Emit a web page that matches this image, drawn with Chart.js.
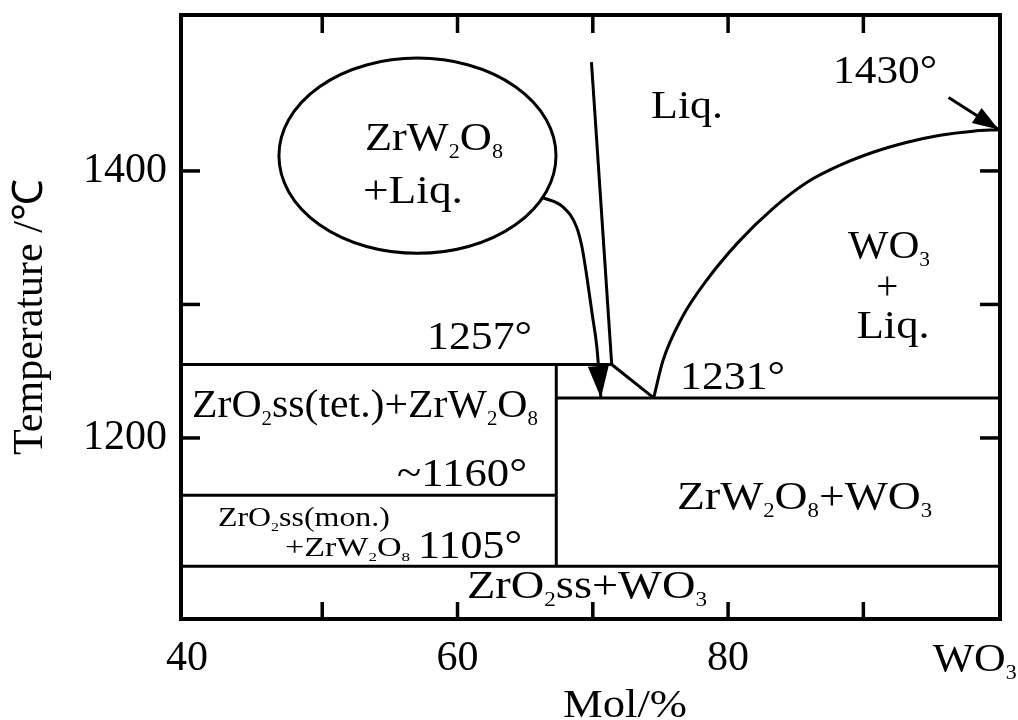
<!DOCTYPE html>
<html>
<head>
<meta charset="utf-8">
<script src="https://cdn.jsdelivr.net/npm/chart.js@4.4.1/dist/chart.umd.min.js"></script>
<style>
html,body{margin:0;padding:0;background:#fff;}
#wrap{width:1018px;height:720px;position:relative;}
</style>
</head>
<body>
<div id="wrap"><canvas id="c"></canvas></div>
<script>
// ---------- data ----------
const X_MIN = 39.56, X_MAX = 100.1;
const T_MIN = 1064.4, T_MAX = 1516.8;

const xTickValues = [40, 50, 60, 70, 80, 90, 100];
const xTickLabels = ['40', '', '60', '', '80', '', ''];
const yTickValues = [1200, 1300, 1400];
const yTickLabels = ['1200', '', '1400'];

const compoundX = 67.3;        // ZrW2O8 composition line
const peritecticT = 1255;      // "1257°"
const eutecticT = 1230;        // "1231°"
const tetMonT = 1157;          // "~1160°"
const lowT = 1104;             // "1105°"

const peritecticEndX = 71.4;
const eutecticX = 74.5;

// WO3-side liquidus
const liquidusX = [74.5, 75.19, 76.6, 78.3, 80.74, 83.33, 85.84, 88.28, 90.72, 93.24, 95.68, 98.12, 100];
const liquidusT = [1230, 1258, 1290.2, 1316.5, 1346.5, 1372, 1391.5, 1404.3, 1414, 1421.5, 1426.8, 1429.8, 1430.9];

// steep ZrO2 liquidus from top
const zrLiqX = [69.9, 71.4];
const zrLiqT = [1481.5, 1255];

// pointer from the ellipse to the 1231 line
const pointerX = [66.3, 67.8, 68.8, 69.2, 69.6, 69.95, 70.3, 70.6];
const pointerT = [1380, 1373, 1358, 1343, 1318, 1293, 1268, 1230];

// arrow to 1430°
const arrowX = [96.3, 100];
const arrowT = [1455, 1431];

// ---------- helpers ----------
const FONT = '"Liberation Serif", "Times New Roman", Times, serif';
const pts = (xs, ys) => xs.map((x, i) => ({x, y: ys[i]}));
const ds = (data, extra) => Object.assign({
  data, borderColor: '#000', borderWidth: 3, pointRadius: 0, fill: false,
  tension: 0, borderCapStyle: 'butt', borderJoinStyle: 'miter'
}, extra || {});

function drawRich(ctx, text, x, y, size, align, target) {
  const parts = [];
  text.split(/(_\d)/).forEach(s => {
    if (!s) return;
    if (/^_\d$/.test(s)) parts.push([s[1], true]); else parts.push([s, false]);
  });
  const f = s => `${s}px ${FONT}`;
  let total = 0;
  const w = parts.map(([t, sub]) => { ctx.font = f(sub ? size * 0.5 : size); const m = ctx.measureText(t).width; total += m; return m; });
  const sx = target ? target / total : 1;
  const full = total * sx;
  const start = align === 'center' ? x - full / 2 : align === 'right' ? x - full : x;
  ctx.save();
  ctx.translate(start, y);
  ctx.scale(sx, 1);
  ctx.textAlign = 'left';
  ctx.textBaseline = 'alphabetic';
  let cx = 0;
  parts.forEach(([t, sub], i) => {
    ctx.font = f(sub ? size * 0.5 : size);
    ctx.fillText(t, cx, sub ? size * 0.2 : 0);
    cx += w[i];
  });
  ctx.restore();
}

function arrowHead(ctx, fx, fy, tx, ty, len, wid) {
  const ang = Math.atan2(ty - fy, tx - fx);
  const bx = tx - len * Math.cos(ang), by = ty - len * Math.sin(ang);
  const nx = -Math.sin(ang) * wid / 2, ny = Math.cos(ang) * wid / 2;
  ctx.beginPath();
  ctx.moveTo(tx, ty);
  ctx.lineTo(bx + nx, by + ny);
  ctx.lineTo(bx - nx, by - ny);
  ctx.closePath();
  ctx.fill();
}

// text annotations: [text, x value, T value, size, align, width px]
const annotations = [
  ['1430°', 87.76, 1465.8, 40, 'left', 104],
  ['Liq.', 79.63, 1439.5, 40, 'right', 72],
  ['ZrW_2O_8', 53.16, 1415.5, 40, 'left', 138],
  ['+Liq.', 53.01, 1375.8, 40, 'left', 100],
  ['WO_3', 91.90, 1334.5, 40, 'center', 82],
  ['+', 91.76, 1304.4, 40, 'center', 22],
  ['Liq.', 92.2, 1275.2, 40, 'center', 73],
  ['1231°', 76.45, 1237.0, 40, 'left', 105],
  ['1257°', 65.51, 1267.0, 40, 'right', 105],
  ['ZrO_2ss(tet.)+ZrW_2O_8', 40.37, 1216.0, 40, 'left', 346],
  ['~1160°', 65.14, 1164.2, 40, 'right', 130],
  ['ZrO_2ss(mon.)', 42.29, 1134.2, 27, 'left', 172],
  ['+ZrW_2O_8', 47.25, 1111.7, 27, 'left', 125],
  ['1105°', 57.08, 1110.2, 40, 'left', 104],
  ['ZrW_2O_8+WO_3', 76.23, 1147.0, 40, 'left', 255],
  ['ZrO_2ss+WO_3', 60.70, 1080.2, 40, 'left', 240]
];

const overlay = {
  id: 'overlay',
  afterDraw(chart) {
    const {ctx, chartArea: a, scales: {x, y}} = chart;
    ctx.save();
    ctx.strokeStyle = '#000';
    ctx.fillStyle = '#000';
    const seg = (x1, y1, x2, y2) => { ctx.beginPath(); ctx.moveTo(x1, y1); ctx.lineTo(x2, y2); ctx.stroke(); };

    // inner tick marks
    ctx.lineWidth = 3.5;
    x.ticks.forEach(t => {
      if (t.value <= 40 || t.value >= 100) return;
      const px = x.getPixelForValue(t.value);
      seg(px, a.bottom, px, a.bottom - 17);
      seg(px, a.top, px, a.top + 18);
    });
    y.ticks.forEach(t => {
      const py = y.getPixelForValue(t.value);
      seg(a.left, py, a.left + 19, py);
      seg(a.right, py, a.right - 20, py);
    });

    // frame
    ctx.lineWidth = 4;
    ctx.strokeRect(a.left, a.top, a.right - a.left, a.bottom - a.top);

    // ellipse of ZrW2O8 + Liq.
    ctx.lineWidth = 3;
    const ecx = x.getPixelForValue(57.04), ecy = y.getPixelForValue(1411.4);
    const erx = x.getPixelForValue(57.04 + 10.24) - ecx;
    const ery = ecy - y.getPixelForValue(1411.4 + 73.1);
    ctx.beginPath();
    ctx.ellipse(ecx, ecy, erx, ery, 0, 0, Math.PI * 2);
    ctx.stroke();

    // arrow heads
    const n = pointerX.length;
    arrowHead(ctx, x.getPixelForValue(pointerX[n - 2]), y.getPixelForValue(pointerT[n - 2]),
      x.getPixelForValue(pointerX[n - 1]), y.getPixelForValue(pointerT[n - 1]), 32, 21);
    arrowHead(ctx, x.getPixelForValue(arrowX[0]), y.getPixelForValue(arrowT[0]),
      x.getPixelForValue(arrowX[1]), y.getPixelForValue(arrowT[1]), 26, 18);

    // texts
    annotations.forEach(([t, xv, yv, s, al, w]) => drawRich(ctx, t, x.getPixelForValue(xv), y.getPixelForValue(yv), s, al, w));

    // WO3 end tick label and x-axis title
    drawRich(ctx, 'WO_3', x.getPixelForValue(100) - 66, x.top + 52, 40, 'left', 84);
    drawRich(ctx, 'Mol/%', x.getPixelForValue(67.8), chart.height - 3, 40, 'left', 124);
    ctx.restore();
  }
};

new Chart(document.getElementById('c'), {
  type: 'line',
  data: {
    datasets: [
      ds(pts([X_MIN, peritecticEndX], [peritecticT, peritecticT])),
      ds(pts([compoundX, X_MAX], [eutecticT, eutecticT])),
      ds(pts([X_MIN, compoundX], [tetMonT, tetMonT])),
      ds(pts([X_MIN, X_MAX], [lowT, lowT])),
      ds(pts([compoundX, compoundX], [peritecticT, lowT])),
      ds(pts([peritecticEndX, eutecticX], [peritecticT, eutecticT])),
      ds(pts(liquidusX, liquidusT), {cubicInterpolationMode: 'monotone'}),
      ds(pts(zrLiqX, zrLiqT)),
      ds(pts(pointerX, pointerT), {cubicInterpolationMode: 'monotone'}),
      ds(pts(arrowX, arrowT))
    ]
  },
  options: {
    responsive: true,
    maintainAspectRatio: false,
    animation: false,
    devicePixelRatio: 1,
    parsing: false,
    layout: {padding: {top: 15, right: 18, left: 0, bottom: 0}},
    plugins: {legend: {display: false}, tooltip: {enabled: false}, title: {display: false}},
    scales: {
      x: {
        type: 'linear', min: X_MIN, max: X_MAX,
        afterBuildTicks: s => { s.ticks = xTickValues.map(v => ({value: v})); },
        afterFit: s => { s.height = 101; s.paddingLeft = 0; s.paddingRight = 0; },
        ticks: {
          autoSkip: false, maxRotation: 0, minRotation: 0, padding: 15, color: '#000',
          font: {family: FONT, size: 42},
          callback: v => { const i = xTickValues.indexOf(v); return i >= 0 ? xTickLabels[i] : ''; }
        },
        grid: {display: false, drawTicks: false},
        border: {display: false}
      },
      y: {
        type: 'linear', min: T_MIN, max: T_MAX,
        afterBuildTicks: s => { s.ticks = yTickValues.map(v => ({value: v})); },
        afterFit: s => { s.width = 181; s.paddingTop = 0; s.paddingBottom = 0; },
        ticks: {
          autoSkip: false, padding: 14, color: '#000',
          font: {family: FONT, size: 42},
          callback: v => { const i = yTickValues.indexOf(v); return i >= 0 ? yTickLabels[i] : ''; }
        },
        title: {display: true, text: 'Temperature /℃', color: '#000', font: {family: FONT, size: 42}, padding: {top: 6, bottom: 0}},
        grid: {display: false, drawTicks: false},
        border: {display: false}
      }
    }
  },
  plugins: [overlay]
});
</script>
</body>
</html>
